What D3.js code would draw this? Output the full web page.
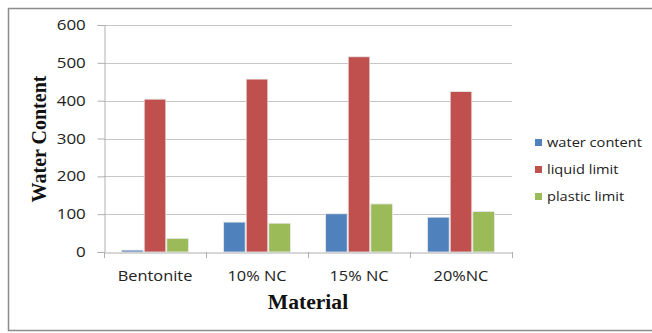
<!DOCTYPE html>
<html>
<head>
<meta charset="utf-8">
<script src="https://cdn.jsdelivr.net/npm/d3@7/dist/d3.min.js"></script>
<style>
  html, body { margin: 0; padding: 0; background: #fff; }
  svg { display: block; }
</style>
</head>
<body>
<svg id="chart" width="652" height="333"></svg>
<script>
// Soil index properties by material
const materials = ["Bentonite", "10% NC", "15% NC", "20%NC"];
const seriesNames = ["water content", "liquid limit", "plastic limit"];
const waterContent = [5, 79, 101, 92];
const liquidLimit = [404, 457, 516, 424];
const plasticLimit = [36, 76, 127, 107];
const yTicks = [0, 100, 200, 300, 400, 500, 600];
const colors = ["#4f81bd", "#c0504d", "#9bbb59"];

const seriesValues = [waterContent, liquidLimit, plasticLimit];
const SANS = "'Open Sans', 'Noto Sans', sans-serif";
const SERIF = "'Liberation Serif', 'Times New Roman', serif";
const WIDEN = 1.17; // horizontal stretch applied to the label type

const svg = d3.select("#chart");

// chart frame
svg.append("path")
  .attr("d", "M652,8.5 H8.5 V330.5 H652")
  .attr("fill", "none")
  .attr("stroke", "#8c8c8c")
  .attr("stroke-width", 1.5);

const plot = { left: 104, right: 512, top: 25, bottom: 252 };

const x = d3.scaleBand().domain(materials).range([plot.left, plot.right]).paddingInner(0).paddingOuter(0);
const y = d3.scaleLinear().domain([0, 600]).range([plot.bottom, plot.top]);
const xInner = d3.scaleBand().domain(d3.range(seriesNames.length))
  .range([0, x.bandwidth()]).paddingInner(0.045).paddingOuter(0.78);

// gridlines
svg.append("g")
  .selectAll("line")
  .data(yTicks.filter(d => d > 0))
  .join("line")
  .attr("x1", plot.left).attr("x2", plot.right)
  .attr("y1", d => Math.round(y(d)) + 0.5).attr("y2", d => Math.round(y(d)) + 0.5)
  .attr("stroke", "#c6c6c6").attr("stroke-width", 1);

// y axis
const yAxis = svg.append("g")
  .attr("transform", `translate(${plot.left + 0.5},0)`)
  .call(d3.axisLeft(y).tickValues(yTicks).tickSize(7));
yAxis.select(".domain").attr("stroke", "#b0b0b0");
yAxis.selectAll(".tick line").attr("stroke", "#b0b0b0");
yAxis.selectAll(".tick text")
  .attr("x", -16)
  .attr("transform", `scale(${WIDEN},1)`)
  .attr("font-family", SANS)
  .attr("font-size", 14.5).attr("fill", "#222");

// bars
const groups = svg.append("g")
  .selectAll("g")
  .data(materials)
  .join("g")
  .attr("transform", d => `translate(${x(d)},0)`);

groups.selectAll("rect")
  .data((d, i) => seriesValues.map((vals, s) => ({ s, v: vals[i] })))
  .join("rect")
  .attr("x", d => xInner(d.s))
  .attr("width", xInner.bandwidth())
  .attr("y", d => y(d.v))
  .attr("height", d => y(0) - y(d.v))
  .attr("fill", d => colors[d.s])
  .attr("stroke", "#e8e8e8")
  .attr("stroke-width", 0.8);

// x axis
const xAxis = svg.append("g")
  .attr("transform", `translate(0,${plot.bottom + 0.5})`)
  .call(d3.axisBottom(x).tickSize(0).tickPadding(19));
xAxis.select(".domain").attr("stroke", "#b0b0b0");
xAxis.selectAll(".tick text")
  .attr("transform", `scale(${WIDEN},1)`)
  .attr("font-family", SANS)
  .attr("font-size", 14).attr("fill", "#222");
// category separators
svg.append("g")
  .selectAll("line")
  .data(materials.map(m => x(m)).concat([plot.right]))
  .join("line")
  .attr("x1", d => Math.round(d) + 0.5).attr("x2", d => Math.round(d) + 0.5)
  .attr("y1", plot.bottom).attr("y2", plot.bottom + 6)
  .attr("stroke", "#b0b0b0");

// axis titles
svg.append("text")
  .attr("transform", `translate(308,309) scale(1.08,1)`)
  .attr("text-anchor", "middle")
  .attr("font-family", SERIF)
  .attr("font-weight", "bold").attr("font-size", 20)
  .attr("fill", "#111")
  .text("Material");

svg.append("text")
  .attr("transform", "translate(46,139) rotate(-90)")
  .attr("text-anchor", "middle")
  .attr("font-family", SERIF)
  .attr("font-weight", "bold").attr("font-size", 20)
  .attr("fill", "#111")
  .text("Water Content");

// legend
const legend = svg.append("g")
  .selectAll("g")
  .data(seriesNames)
  .join("g")
  .attr("transform", (d, i) => `translate(535,${143 + i * 27})`);
legend.append("rect")
  .attr("x", 0).attr("y", -4).attr("width", 7).attr("height", 7)
  .attr("fill", (d, i) => colors[i]);
legend.append("text")
  .attr("x", 12).attr("y", 0).attr("dy", "0.35em")
  .attr("transform", `translate(12,0) scale(${WIDEN},1) translate(-12,0)`)
  .attr("font-family", SANS)
  .attr("font-size", 12.5).attr("fill", "#222")
  .text(d => d);
</script>
</body>
</html>
